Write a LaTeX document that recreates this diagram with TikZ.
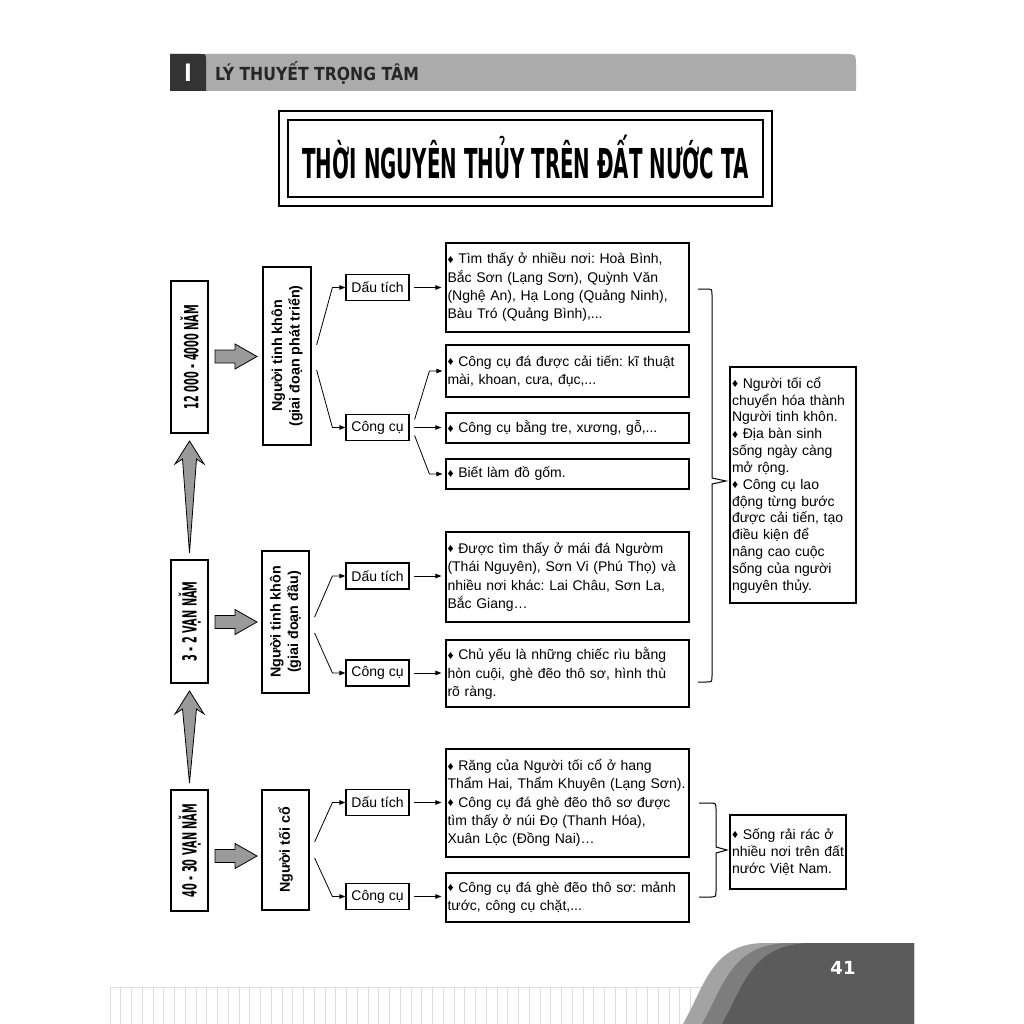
\documentclass[tikz,border=0pt]{standalone}
\usepackage{fontspec}
\usepackage{graphicx}
\setmainfont{Liberation Sans}
\newfontfamily\titlefont[FakeStretch=0.48]{DejaVu Sans}
\newfontfamily\sidefont[FakeStretch=0.50]{DejaVu Sans}
\newfontfamily\headfont[FakeStretch=0.87]{DejaVu Sans}
\newfontfamily\pgfont{DejaVu Sans}
\usetikzlibrary{arrows.meta,calc}
\definecolor{hdrgray}{HTML}{ABABAB}
\definecolor{hdrdark}{HTML}{333333}
\definecolor{arrgray}{HTML}{9A9A9A}
\definecolor{ftlight}{HTML}{A3A3A3}
\definecolor{ftmid}{HTML}{7D7D7D}
\definecolor{ftdark}{HTML}{5B5B5B}
\definecolor{gridc}{HTML}{DDDDDD}
\newcommand\dm{\raisebox{0.6pt}{\fontsize{12}{12}\selectfont ♦}}
\newcommand\blockarr[1]{\filldraw[blockar] (215,#1-6.5) -- (235,#1-6.5) -- (235,#1-12.5) -- (257,#1) -- (235,#1+12.5) -- (235,#1+6.5) -- (215,#1+6.5) -- cycle;}
\newcommand\vertarr[2]{\filldraw[blockar] (189.5,#1) -- (204,#1+23) -- (196.5,#1+18) -- (189.5,#2) -- (182.5,#1+18) -- (175,#1+23) -- cycle;}
\frenchspacing
\begin{document}
\begin{tikzpicture}[x=1pt,y=-1pt,
  bx/.style={draw, line width=1.2pt, inner sep=0pt},
  lbl/.style={inner sep=0pt, rotate=90, font=\sidefont\bfseries\fontsize{19.5}{20}\selectfont},
  nlbl/.style={inner sep=0pt, rotate=90, align=center, font=\bfseries\fontsize{14.3}{17.5}\selectfont},
  sbox/.style={draw, line width=1.2pt, minimum width=63pt, minimum height=26pt, inner sep=0pt, font=\fontsize{14}{16}\selectfont},
  dbox/.style={draw, line width=1.2pt, text width=240pt, inner xsep=1.5pt, inner ysep=0pt, align=left, font=\fontsize{14}{18.3}\selectfont, execute at begin node={\lineskiplimit=-20pt\relax}},
  mbox/.style={draw, line width=1.2pt, text width=122pt, inner xsep=2pt, inner ysep=0pt, align=left, font=\fontsize{14}{16.8}\selectfont, execute at begin node={\lineskiplimit=-20pt\relax}},
  conn/.style={line width=0.8pt, -{Triangle[length=6pt,width=4.5pt]}},
  brace/.style={line width=1pt},
  blockar/.style={fill=arrgray, draw=black, line width=0.8pt, line join=miter},
  gridline/.style={draw=gridc, line width=0.6pt}]
\useasboundingbox[fill=white] (0,0) rectangle (1024,1024);

% header
\fill[hdrgray] (170,54) -- (844,54) .. controls (856,54) .. (856,66) -- (856,91) -- (170,91) -- cycle;
\fill[hdrdark] (170,54) -- (200,54) .. controls (206,54) .. (206,60) -- (206,91) -- (170,91) -- cycle;
\node[text=white, font=\headfont\bfseries\fontsize{24}{24}\selectfont] (hI) at (188,73) {I};
\node[anchor=west, inner sep=0pt, text=black!85, font=\headfont\bfseries\fontsize{18}{18}\selectfont] (htxt) at (215,73) {LÝ THUYẾT TRỌNG TÂM};

% title
\node[bx, minimum width=493pt, minimum height=95pt] (tout) at (525.5,158.5) {};
\node[bx, minimum width=475pt, minimum height=77pt] (tin) at (525.5,158.5) {};
\node[inner sep=0pt] (ttl) at (525.5,157) {\resizebox{446pt}{!}{\titlefont\bfseries THỜI NGUYÊN THỦY TRÊN ĐẤT NƯỚC TA}};

% left period boxes
\node[bx, minimum width=37pt, minimum height=152pt] (pa) at (189.5,357) {};
\node[lbl] (pat) at (pa.center) {12 000 - 4000 NĂM};
\node[bx, minimum width=37pt, minimum height=123pt] (pb) at (189.5,621.5) {};
\node[lbl] (pbt) at (pb.center) {3 - 2 VẠN NĂM};
\node[bx, minimum width=37pt, minimum height=121pt] (pc) at (189.5,850.5) {};
\node[lbl] (pct) at (pc.center) {40 - 30 VẠN NĂM};

% vertical arrows
\vertarr{441}{553}
\vertarr{691}{783}

% block arrows
\blockarr{356.5}
\blockarr{622}
\blockarr{856}

% human type boxes
\node[bx, minimum width=48pt, minimum height=178pt] (n1) at (287,356) {};
\node[nlbl] (n1t) at (n1.center) {Người tinh khôn\\(giai đoạn phát triển)};
\node[bx, minimum width=47pt, minimum height=142pt] (n2) at (285.5,622) {};
\node[nlbl] (n2t) at (n2.center) {Người tinh khôn\\(giai đoạn đầu)};
\node[bx, minimum width=47pt, minimum height=120pt] (n3) at (285.5,850) {};
\node[nlbl] (n3t) at (n3.center) {Người tối cổ};

% small boxes
\node[sbox] (dt1) at (377.5,287.5) {Dấu tích};
\node[sbox] (cc1) at (377.5,427.5) {Công cụ};
\node[sbox] (dt2) at (377.5,576) {Dấu tích};
\node[sbox] (cc2) at (377.5,673) {Công cụ};
\node[sbox] (dt3) at (377.5,802.5) {Dấu tích};
\node[sbox] (cc3) at (377.5,896.5) {Công cụ};

% detail boxes
\node[dbox, minimum height=89pt] (d1) at (567.5,287.5) {\dm\ Tìm thấy ở nhiều nơi: Hoà Bình,\\Bắc Sơn (Lạng Sơn), Quỳnh Văn\\(Nghệ An), Hạ Long (Quảng Ninh),\\Bàu Tró (Quảng Bình),...};
\node[dbox, minimum height=52pt] (d2) at (567.5,371) {\dm\ Công cụ đá được cải tiến: kĩ thuật\\mài, khoan, cưa, đục,...};
\node[dbox, minimum height=30pt] (d3) at (567.5,428) {\dm\ Công cụ bằng tre, xương, gỗ,...};
\node[dbox, minimum height=30pt] (d4) at (567.5,474) {\dm\ Biết làm đồ gốm.};
\node[dbox, minimum height=90pt] (d5) at (567.5,577) {\dm\ Được tìm thấy ở mái đá Ngườm\\(Thái Nguyên), Sơn Vi (Phú Thọ) và\\nhiều nơi khác: Lai Châu, Sơn La,\\Bắc Giang…};
\node[dbox, minimum height=67pt] (d6) at (567.5,673.5) {\dm\ Chủ yếu là những chiếc rìu bằng\\hòn cuội, ghè đẽo thô sơ, hình thù\\rõ ràng.};
\node[dbox, minimum height=108pt] (d7) at (567.5,803) {\dm\ Răng của Người tối cổ ở hang\\Thẩm Hai, Thẩm Khuyên (Lạng Sơn).\\\dm\ Công cụ đá ghè đẽo thô sơ được\\tìm thấy ở núi Đọ (Thanh Hóa),\\Xuân Lộc (Đồng Nai)…};
\node[dbox, minimum height=49pt] (d8) at (567.5,897.5) {\dm\ Công cụ đá ghè đẽo thô sơ: mảnh\\tước, công cụ chặt,...};

% summary boxes
\node[mbox, minimum height=236pt] (s1) at (793,485) {\dm\ Người tối cổ\\chuyển hóa thành\\Người tinh khôn.\\\dm\ Địa bàn sinh\\sống ngày càng\\mở rộng.\\\dm\ Công cụ lao\\động từng bước\\được cải tiến, tạo\\điều kiện để\\nâng cao cuộc\\sống của người\\nguyên thủy.};
\node[mbox, text width=112pt, minimum height=74pt] (s2) at (788,852) {\dm\ Sống rải rác ở\\nhiều nơi trên đất\\nước Việt Nam.};

% forks from human boxes
\draw[conn] ([xshift=5pt,yshift=11pt]n1.east) -- ([xshift=-13pt]dt1.west) -- (dt1.west);
\draw[conn] ([xshift=5pt,yshift=-14pt]n1.east) -- ([xshift=-13pt]cc1.west) -- (cc1.west);
\draw[conn] ([xshift=5pt,yshift=5pt]n2.east) -- ([xshift=-13pt]dt2.west) -- (dt2.west);
\draw[conn] ([xshift=5pt,yshift=-11pt]n2.east) -- ([xshift=-13pt]cc2.west) -- (cc2.west);
\draw[conn] ([xshift=5pt,yshift=8pt]n3.east) -- ([xshift=-13pt]dt3.west) -- (dt3.west);
\draw[conn] ([xshift=5pt,yshift=-8pt]n3.east) -- ([xshift=-13pt]cc3.west) -- (cc3.west);

% arrows to detail boxes
\draw[conn, shorten >=4pt] ([xshift=4pt]dt1.east) -- (dt1.east -| d1.west);
\draw[conn, shorten >=3pt] ([xshift=5pt,yshift=8pt]cc1.east) -- ([xshift=-16pt]d2.west) -- (d2.west);
\draw[conn, shorten >=4pt] ([xshift=4pt]cc1.east) -- (cc1.east -| d3.west);
\draw[conn, shorten >=3pt] ([xshift=5pt,yshift=-8pt]cc1.east) -- ([xshift=-16pt]d4.west) -- (d4.west);
\draw[conn, shorten >=4pt] ([xshift=4pt]dt2.east) -- (dt2.east -| d5.west);
\draw[conn, shorten >=4pt] ([xshift=4pt]cc2.east) -- (cc2.east -| d6.west);
\draw[conn, shorten >=4pt] ([xshift=4pt]dt3.east) -- (dt3.east -| d7.west);
\draw[conn, shorten >=4pt] ([xshift=4pt]cc3.east) -- (cc3.east -| d8.west);

% braces
\draw[brace] (698,289) -- (706,289) .. controls (712,289) .. (712,295) -- (712,478) -- (726,481) -- (712,484) -- (712,676) .. controls (712,682) .. (706,682) -- (698,682);
\draw[brace] (699,803) -- (709,803) .. controls (716,803) .. (716,809) -- (716,847) -- (727,850) -- (716,853) -- (716,891) .. controls (716,897) .. (709,897) -- (699,897);

% footer grid
\foreach \i in {0,...,55} \draw[gridline] ({110+\i*10.75},987) -- ({110+\i*10.75},1024);
\draw[gridline] (110,987) -- (705,987);
% footer waves
\fill[ftlight] (683,1024) .. controls (705,985) and (712,943) .. (765,943) -- (914,943) -- (914,1024) -- cycle;
\fill[ftmid] (702,1024) .. controls (724,985) and (732,943) .. (790,943) -- (914,943) -- (914,1024) -- cycle;
\fill[ftdark] (722,1024) .. controls (744,985) and (752,943) .. (812,943) -- (914,943) -- (914,1024) -- cycle;
\node[text=white, font=\pgfont\bfseries\fontsize{18}{18}\selectfont] (pg) at (843,968) {41};
\end{tikzpicture}
\end{document}
